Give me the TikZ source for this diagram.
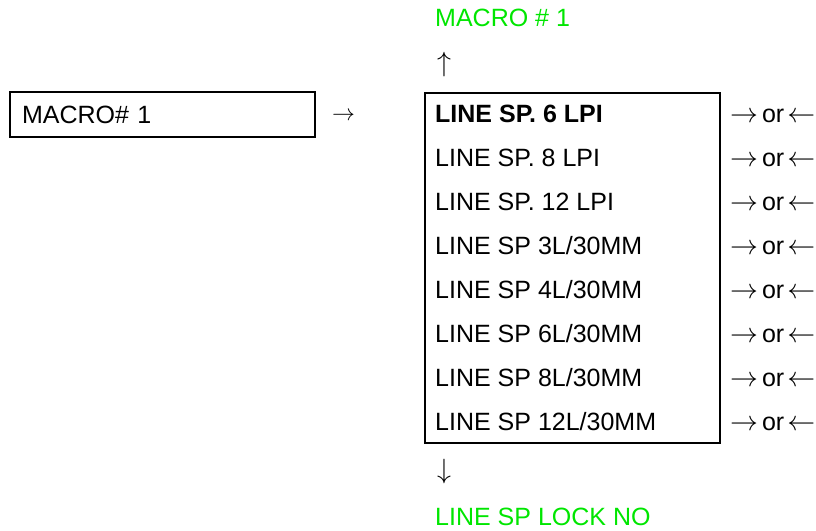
\documentclass[tikz,border=0pt]{standalone}
\usepackage{graphicx}
\usepackage{fontspec}
\setmainfont{Liberation Sans}
\definecolor{menugreen}{RGB}{0,230,0}
\tikzset{
  txt/.style={font=\fontsize{25}{30}\selectfont, inner sep=0pt, text height=18pt, text depth=0pt, anchor=west},
  greentxt/.style={txt, text=menugreen},
  glyph/.style={font=\fontsize{25}{30}\selectfont, inner sep=0pt},
  boxframe/.style={draw=black, line width=2.2pt, inner sep=0pt},
  choice/.style={txt},
}
\newcommand{\bigarrow}[1]{\scalebox{1.12}{$#1$}}
\newcommand{\orarrows}{\bigarrow{\rightarrow}\hspace{4pt}or\hspace{3pt}\bigarrow{\leftarrow}}
\begin{document}
\begin{tikzpicture}[x=1pt,y=-1pt]
\useasboundingbox (0,0) rectangle (816,530);
% left box
\node[boxframe, minimum width=305pt, minimum height=45pt, text width=281pt, align=left, inner xsep=12pt,
      font=\fontsize{25}{30}\selectfont, text height=18pt, text depth=0pt] (macro) at (162.5,114.5) {MACRO\# 1};
\node[font=\fontsize{25}{30}\selectfont, inner sep=0pt, anchor=west] (toarrow) at (332,116) {\scalebox{0.92}{$\rightarrow$}};
% right box
\node[boxframe, minimum width=295pt, minimum height=350pt] (menu) at (572.5,268) {};
% top/bottom
\node[greentxt] (prev) at (435,17) {MACRO \# 1};
\node[glyph] (up) at (444,65) {\bigarrow{\uparrow}};
\node[glyph] (down) at (444,472) {\bigarrow{\downarrow}};
\node[greentxt] (next) at (435,516) {LINE SP LOCK NO};
% rows
\node[txt, font=\fontsize{25}{30}\selectfont\bfseries] (r1) at (435,113) {LINE SP. 6 LPI};
\node[txt] (r2) at (435,157) {LINE SP. 8 LPI};
\node[txt] (r3) at (435,201) {LINE SP. 12 LPI};
\node[txt] (r4) at (435,245) {LINE SP 3L/30MM};
\node[txt] (r5) at (435,289) {LINE SP 4L/30MM};
\node[txt] (r6) at (435,333) {LINE SP 6L/30MM};
\node[txt] (r7) at (435,377) {LINE SP 8L/30MM};
\node[txt] (r8) at (435,421) {LINE SP 12L/30MM};
% choices
\node[choice] (c1) at (730,113) {\orarrows};
\node[choice] (c2) at (730,157) {\orarrows};
\node[choice] (c3) at (730,201) {\orarrows};
\node[choice] (c4) at (730,245) {\orarrows};
\node[choice] (c5) at (730,289) {\orarrows};
\node[choice] (c6) at (730,333) {\orarrows};
\node[choice] (c7) at (730,377) {\orarrows};
\node[choice] (c8) at (730,421) {\orarrows};
\end{tikzpicture}
\end{document}
